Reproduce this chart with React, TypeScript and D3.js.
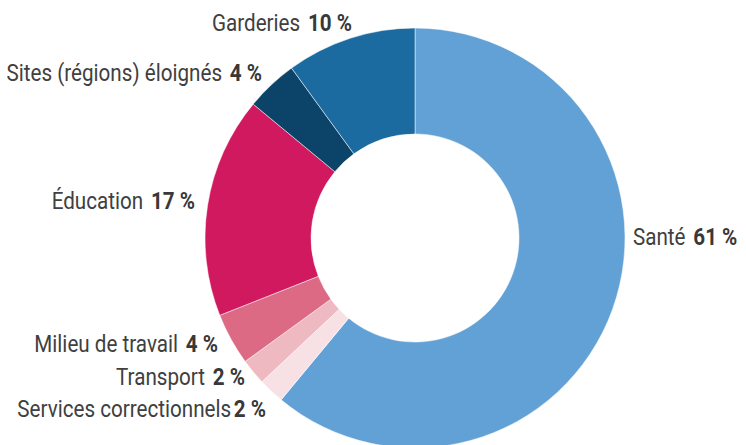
import React from "react";
import * as d3 from "d3";

const categories = [
  "Santé",
  "Services correctionnels",
  "Transport",
  "Milieu de travail",
  "Éducation",
  "Sites (régions) éloignés",
  "Garderies",
];
const values = [61, 2, 2, 4, 17, 4, 10];
const valueLabels = ["61 %", "2 %", "2 %", "4 %", "17 %", "4 %", "10 %"];
const colors = ["#62a1d6", "#f7e1e5", "#eeb9c0", "#dc6a84", "#d0195e", "#0b4468", "#1b6aa0"];

const W = 746;
const H = 445;
const cx = 415;
const cy = 238;
const outerR = 210;
const innerR = 104;

const labelPos: { x: number; y: number; anchor: "start" | "end"; gap: number }[] = [
  { x: 633, y: 245, anchor: "start", gap: 9 },
  { x: 266, y: 417, anchor: "end", gap: 3 },
  { x: 245, y: 385, anchor: "end", gap: 9 },
  { x: 218, y: 352, anchor: "end", gap: 9 },
  { x: 195, y: 209, anchor: "end", gap: 9 },
  { x: 262, y: 81, anchor: "end", gap: 9 },
  { x: 352, y: 31, anchor: "end", gap: 9 },
];

const FONT = "Roboto, 'Noto Sans', sans-serif";
const SX = 0.86;

export default function App() {
  const pie = d3
    .pie<number>()
    .sort(null)
    .value((d) => d)
    .startAngle(0)
    .endAngle(2 * Math.PI);
  const arcs = pie(values);
  const arc = d3.arc<d3.PieArcDatum<number>>().innerRadius(innerR).outerRadius(outerR);

  return (
    <svg
      width={W}
      height={H}
      style={{ position: "absolute", left: 0, top: 0, background: "#fff" }}
    >
      <g transform={`translate(${cx},${cy})`}>
        {arcs.map((a, i) => (
          <path key={i} d={arc(a) || ""} fill={colors[i]} stroke="#fff" strokeWidth={0.5} />
        ))}
      </g>
      {categories.map((c, i) => {
        const p = labelPos[i];
        return (
          <g key={c} transform={`translate(${p.x},${p.y}) scale(${SX},1)`}>
            <text
              x={0}
              y={0}
              textAnchor={p.anchor}
              fontFamily={FONT}
              fontSize={24}
              fill="#404040"
            >
              <tspan>{c}</tspan>
              <tspan dx={p.gap} fontWeight="bold" fill="#383838">
                {valueLabels[i]}
              </tspan>
            </text>
          </g>
        );
      })}
    </svg>
  );
}
